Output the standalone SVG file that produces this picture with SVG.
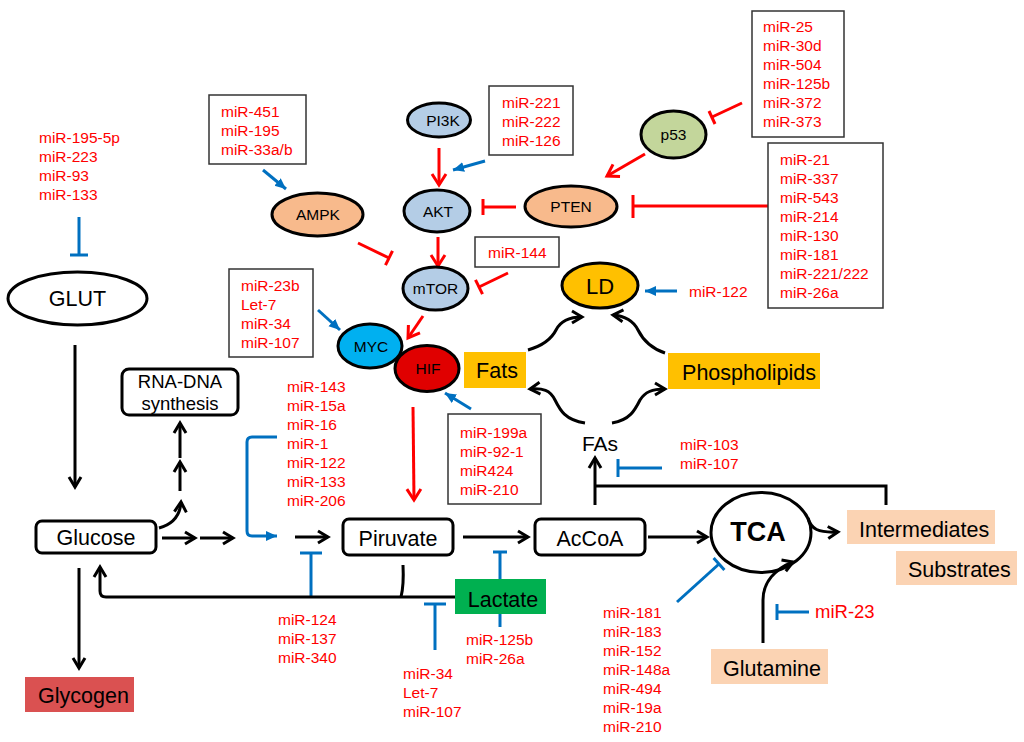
<svg xmlns="http://www.w3.org/2000/svg" width="1024" height="742" viewBox="0 0 1024 742">
<style>
.mi{font-family:"Liberation Sans",Arial,sans-serif;font-size:15.5px;fill:#FF0000}
.nl{font-family:"Liberation Sans",Arial,sans-serif;font-size:15.5px;fill:#000;text-anchor:middle}
.bl{font-family:"Liberation Sans",Arial,sans-serif;font-size:21.5px;fill:#000}
.box{fill:#fff;stroke:#333;stroke-width:1.5}
.node{stroke:#000;stroke-width:3}
.rr{fill:#fff;stroke:#000;stroke-width:3}
.k{fill:none;stroke:#000;stroke-width:3}
.r{fill:none;stroke:#FF0000;stroke-width:3}
.b{fill:none;stroke:#0070C0;stroke-width:3}
</style>
<defs>
<marker id="ak" markerUnits="userSpaceOnUse" markerWidth="16" markerHeight="16" viewBox="0 0 16 16" refX="13" refY="8" orient="auto">
<path d="M3,2 L13,8 L3,14" fill="none" stroke="#000" stroke-width="3" stroke-linejoin="miter"/>
</marker>
<marker id="ar" markerUnits="userSpaceOnUse" markerWidth="18" markerHeight="18" viewBox="0 0 18 18" refX="14" refY="9" orient="auto">
<path d="M3,2 L14,9 L3,16" fill="none" stroke="#FF0000" stroke-width="3"/>
</marker>
<marker id="ab" markerUnits="userSpaceOnUse" markerWidth="12" markerHeight="12" viewBox="0 0 12 12" refX="11" refY="6" orient="auto">
<path d="M0,1 L11,6 L0,11 z" fill="#0070C0"/>
</marker>
</defs>

<g id="connectors">
<line class="b" x1="79" y1="217" x2="79" y2="255"/><line class="b" x1="70" y1="255" x2="88" y2="255"/>
<line class="k" x1="75" y1="345" x2="75" y2="487" marker-end="url(#ak)"/>
<line class="k" x1="79" y1="568" x2="79" y2="668" marker-end="url(#ak)"/>
<line class="k" x1="162" y1="538" x2="195" y2="538" marker-end="url(#ak)"/>
<line class="k" x1="200" y1="538" x2="233" y2="538" marker-end="url(#ak)"/>
<path class="k" d="M159,528 C170,525 180,518 181,502" marker-end="url(#ak)"/>
<line class="k" x1="180" y1="491" x2="180" y2="462" marker-end="url(#ak)"/>
<line class="k" x1="180" y1="458" x2="180" y2="423" marker-end="url(#ak)"/>
<path class="b" d="M277,437 H252 Q247,437 247,442 V531 Q247,536 252,536 H277" marker-end="url(#ab)"/>
<line class="k" x1="295" y1="537" x2="328" y2="537" marker-end="url(#ak)"/>
<line class="b" x1="311" y1="598" x2="311" y2="553"/><line class="b" x1="300" y1="553" x2="322" y2="553"/>
<path class="k" d="M403,565 Q404,585 401,597"/>
<path class="k" d="M455,597 H106 Q100,597 100,591 V567" marker-end="url(#ak)"/>
<line class="b" x1="435" y1="650" x2="435" y2="604"/><line class="b" x1="424" y1="604" x2="446" y2="604"/>
<line class="b" x1="500" y1="627" x2="500" y2="552"/><line class="b" x1="493" y1="552" x2="507" y2="552"/>
<line class="k" x1="463" y1="537" x2="528" y2="537" marker-end="url(#ak)"/>
<line class="k" x1="648" y1="537" x2="707" y2="537" marker-end="url(#ak)"/>
<line class="k" x1="595" y1="505" x2="595" y2="458" marker-end="url(#ak)"/>
<path class="k" d="M886,505 V486 H595"/>
<line class="b" x1="662" y1="468" x2="618" y2="468"/><line class="b" x1="618" y1="459" x2="618" y2="477"/>
<path class="k" d="M808,518 C811,529 818,533 838,532" marker-end="url(#ak)"/>
<path class="k" d="M763,643 V600 C763,582 775,569 793,562" marker-end="url(#ak)"/>
<line class="b" x1="809" y1="612" x2="777" y2="612"/><line class="b" x1="777" y1="604" x2="777" y2="620"/>
<line class="b" x1="677" y1="602" x2="719" y2="564"/><line class="b" x1="713.6" y1="558" x2="724.4" y2="570"/>
<line class="r" x1="413" y1="407" x2="414" y2="500" marker-end="url(#ar)"/>
<line class="b" x1="471" y1="409" x2="445" y2="393" marker-end="url(#ab)"/>
<path class="k" d="M585,423 C565,420 560,410 555,400 C550,390 543,388 530,389" marker-end="url(#ak)"/>
<path class="k" d="M612,423 C630,420 635,410 640,400 C645,392 652,389 665,389" marker-end="url(#ak)"/>
<path class="k" d="M528,350 C545,345 552,338 556,330 C561,320 570,317 582,317" marker-end="url(#ak)"/>
<path class="k" d="M665,353 C650,348 643,340 638,330 C633,320 625,316 613,315" marker-end="url(#ak)"/>
<line class="b" x1="677" y1="291" x2="645" y2="291" marker-end="url(#ab)"/>
<line class="b" x1="318" y1="310" x2="340" y2="330" marker-end="url(#ab)"/>
<line class="r" x1="423" y1="316" x2="408" y2="338" marker-end="url(#ar)"/>
<line class="b" x1="263" y1="170" x2="286" y2="189" marker-end="url(#ab)"/>
<line class="r" x1="358" y1="243" x2="389" y2="258"/><line class="r" x1="392.5" y1="250.8" x2="385.5" y2="265.2"/>
<line class="r" x1="439" y1="148" x2="439" y2="185" marker-end="url(#ar)"/>
<line class="b" x1="485" y1="161" x2="453" y2="170" marker-end="url(#ab)"/>
<line class="r" x1="438" y1="237" x2="438" y2="266" marker-end="url(#ar)"/>
<line class="r" x1="516" y1="207" x2="483" y2="207"/><line class="r" x1="483" y1="199" x2="483" y2="215"/>
<line class="r" x1="645" y1="154" x2="607" y2="176" marker-end="url(#ar)"/>
<line class="r" x1="742" y1="103" x2="712" y2="117"/><line class="r" x1="709" y1="111" x2="715" y2="124"/>
<line class="r" x1="768" y1="206" x2="633" y2="206"/><line class="r" x1="633" y1="195" x2="633" y2="218"/>
<line class="r" x1="508" y1="273" x2="479" y2="287"/><line class="r" x1="475.5" y1="279.8" x2="482.5" y2="294.2"/>
</g>

<g id="mir-glut">
<text class="mi" x="39" y="143">miR-195-5p</text>
<text class="mi" x="39" y="162">miR-223</text>
<text class="mi" x="39" y="181">miR-93</text>
<text class="mi" x="39" y="200">miR-133</text>
</g>
<g id="mir-ampk">
<rect class="box" x="209" y="95" width="97" height="69"/>
<text class="mi" x="221" y="117">miR-451</text>
<text class="mi" x="221" y="136">miR-195</text>
<text class="mi" x="221" y="155">miR-33a/b</text>
</g>
<g id="mir-myc">
<rect class="box" x="229" y="269" width="84" height="88"/>
<text class="mi" x="241" y="291">miR-23b</text>
<text class="mi" x="241" y="310">Let-7</text>
<text class="mi" x="241" y="329">miR-34</text>
<text class="mi" x="241" y="348">miR-107</text>
</g>
<g id="mir-akt">
<rect class="box" x="489" y="86" width="84" height="69"/>
<text class="mi" x="502" y="108">miR-221</text>
<text class="mi" x="502" y="127">miR-222</text>
<text class="mi" x="502" y="146">miR-126</text>
</g>
<g id="mir-p53">
<rect class="box" x="752" y="11" width="92" height="126"/>
<text class="mi" x="763" y="32">miR-25</text>
<text class="mi" x="763" y="51">miR-30d</text>
<text class="mi" x="763" y="70">miR-504</text>
<text class="mi" x="763" y="89">miR-125b</text>
<text class="mi" x="763" y="108">miR-372</text>
<text class="mi" x="763" y="127">miR-373</text>
</g>
<g id="mir-pten">
<rect class="box" x="768" y="143" width="115" height="165"/>
<text class="mi" x="780" y="165">miR-21</text>
<text class="mi" x="780" y="184">miR-337</text>
<text class="mi" x="780" y="203">miR-543</text>
<text class="mi" x="780" y="222">miR-214</text>
<text class="mi" x="780" y="241">miR-130</text>
<text class="mi" x="780" y="260">miR-181</text>
<text class="mi" x="780" y="279">miR-221/222</text>
<text class="mi" x="780" y="298">miR-26a</text>
</g>
<g id="mir-mtor">
<rect class="box" x="475" y="237" width="84" height="30"/>
<text class="mi" x="488" y="258">miR-144</text>
</g>
<g id="mir-ld">
<text class="mi" x="689" y="297">miR-122</text>
</g>
<g id="mir-hif">
<rect class="box" x="448" y="414" width="93" height="90"/>
<text class="mi" x="460" y="438">miR-199a</text>
<text class="mi" x="460" y="457">miR-92-1</text>
<text class="mi" x="460" y="476">miR424</text>
<text class="mi" x="460" y="495">miR-210</text>
</g>
<g id="mir-glycolysis">
<text class="mi" x="287" y="392">miR-143</text>
<text class="mi" x="287" y="411">miR-15a</text>
<text class="mi" x="287" y="430">miR-16</text>
<text class="mi" x="287" y="449">miR-1</text>
<text class="mi" x="287" y="468">miR-122</text>
<text class="mi" x="287" y="487">miR-133</text>
<text class="mi" x="287" y="506">miR-206</text>
</g>
<g id="mir-124">
<text class="mi" x="278" y="625">miR-124</text>
<text class="mi" x="278" y="644">miR-137</text>
<text class="mi" x="278" y="663">miR-340</text>
</g>
<g id="mir-34">
<text class="mi" x="403" y="679">miR-34</text>
<text class="mi" x="403" y="698">Let-7</text>
<text class="mi" x="403" y="717">miR-107</text>
</g>
<g id="mir-125b">
<text class="mi" x="466" y="645">miR-125b</text>
<text class="mi" x="466" y="664">miR-26a</text>
</g>
<g id="mir-fas">
<text class="mi" x="680" y="450">miR-103</text>
<text class="mi" x="680" y="469">miR-107</text>
</g>
<g id="mir-tca">
<text class="mi" x="603" y="618">miR-181</text>
<text class="mi" x="603" y="637">miR-183</text>
<text class="mi" x="603" y="656">miR-152</text>
<text class="mi" x="603" y="675">miR-148a</text>
<text class="mi" x="603" y="694">miR-494</text>
<text class="mi" x="603" y="713">miR-19a</text>
<text class="mi" x="603" y="732">miR-210</text>
</g>
<g id="mir-23">
<text class="mi" x="815" y="618" style="font-size:18.5px">miR-23</text>
</g>

<g id="GLUT">
<ellipse class="node" cx="77.5" cy="298.5" rx="69.5" ry="26.5" fill="#fff"/>
<text class="nl" x="77.5" y="306" style="font-size:21.5px">GLUT</text>
</g>
<g id="AMPK">
<ellipse class="node" cx="317.5" cy="214.5" rx="45.5" ry="21.5" fill="#F8BA8C"/>
<text class="nl" x="318" y="220">AMPK</text>
</g>
<g id="PI3K">
<ellipse class="node" cx="439" cy="120" rx="31.5" ry="17" fill="#B4CDE6"/>
<text class="nl" x="443" y="125.5">PI3K</text>
</g>
<g id="AKT">
<ellipse class="node" cx="437" cy="211" rx="33" ry="21" fill="#B4CDE6"/>
<text class="nl" x="438" y="216.5">AKT</text>
</g>
<g id="PTEN">
<ellipse class="node" cx="571" cy="206.5" rx="46" ry="20.5" fill="#F8BA8C"/>
<text class="nl" x="571" y="212">PTEN</text>
</g>
<g id="p53">
<ellipse class="node" cx="673.5" cy="134.5" rx="32.5" ry="23.5" fill="#C3D69B"/>
<text class="nl" x="673.5" y="140">p53</text>
</g>
<g id="mTOR">
<ellipse class="node" cx="435.5" cy="288.5" rx="32.5" ry="21.5" fill="#B4CDE6"/>
<text class="nl" x="435.5" y="294">mTOR</text>
</g>
<g id="LD">
<ellipse class="node" cx="600" cy="285.5" rx="38" ry="22.5" fill="#FFC000"/>
<text class="nl" x="600" y="293.5" style="font-size:22px">LD</text>
</g>
<g id="MYC">
<ellipse class="node" cx="370" cy="346" rx="32" ry="22" fill="#00B0F0"/>
<text class="nl" x="371" y="351.5">MYC</text>
</g>
<g id="HIF">
<ellipse class="node" cx="427" cy="368.5" rx="32" ry="23" fill="#E00000"/>
<text class="nl" x="428" y="374">HIF</text>
</g>
<g id="Fats">
<rect x="464" y="352" width="62" height="36" fill="#FFC000"/>
<text class="bl" x="497" y="377.5" text-anchor="middle">Fats</text>
</g>
<g id="Phospholipids">
<rect x="668" y="353" width="152" height="36" fill="#FFC000"/>
<text class="bl" x="749" y="379.5" text-anchor="middle">Phospholipids</text>
</g>
<g id="FAs">
<text class="bl" x="600" y="451" text-anchor="middle" style="font-size:21px">FAs</text>
</g>
<g id="RNA-DNA">
<rect class="rr" x="122" y="369" width="116" height="46" rx="7"/>
<text class="bl" x="180" y="388" text-anchor="middle" style="font-size:18.5px">RNA-DNA</text>
<text class="bl" x="180" y="410" text-anchor="middle" style="font-size:18.5px">synthesis</text>
</g>
<g id="Glucose">
<rect class="rr" x="36" y="521" width="120" height="32" rx="6"/>
<text class="bl" x="96" y="545" text-anchor="middle">Glucose</text>
</g>
<g id="Glycogen">
<rect x="25" y="677" width="109" height="35" fill="#DA5151"/>
<text class="bl" x="83.5" y="703" text-anchor="middle">Glycogen</text>
</g>
<g id="Piruvate">
<rect class="rr" x="343" y="519" width="110" height="36" rx="6"/>
<text class="bl" x="398" y="546" text-anchor="middle">Piruvate</text>
</g>
<g id="AcCoA">
<rect class="rr" x="535" y="519" width="110" height="36" rx="6"/>
<text class="bl" x="590" y="546" text-anchor="middle">AcCoA</text>
</g>
<g id="Lactate">
<rect x="455" y="579" width="91" height="35" fill="#00B050"/>
<text class="bl" x="503" y="607" text-anchor="middle">Lactate</text>
</g>
<g id="TCA">
<ellipse class="node" cx="761" cy="532.5" rx="50" ry="40" fill="none"/>
<text class="nl" x="758" y="541" style="font-size:27px;font-weight:bold">TCA</text>
</g>
<g id="Intermediates">
<rect x="847" y="510" width="148" height="34" fill="#FBD3B3"/>
<text class="bl" x="859" y="537">Intermediates</text>
</g>
<g id="Substrates">
<rect x="896" y="551" width="121" height="34" fill="#FBD3B3"/>
<text class="bl" x="908" y="577">Substrates</text>
</g>
<g id="Glutamine">
<rect x="711" y="649" width="117" height="35" fill="#FBD3B3"/>
<text class="bl" x="723" y="676">Glutamine</text>
</g>
</svg>
